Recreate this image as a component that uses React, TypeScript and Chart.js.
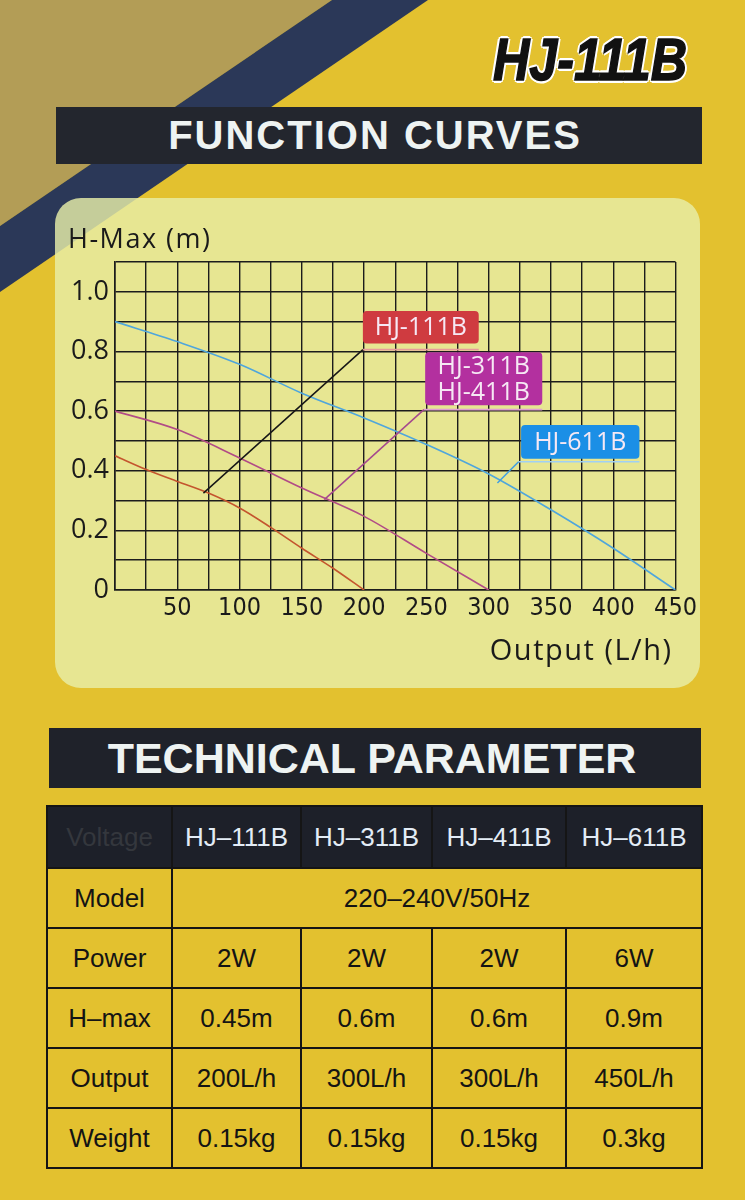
import React, { useEffect, useRef } from 'react';
import { Chart, registerables } from 'chart.js';
Chart.register(...registerables);

// ---- curve data (Output L/h -> H-Max m) ----
const flow111 = [0, 25, 50, 75, 100, 125, 150, 175, 200];
const head111 = [0.45, 0.404, 0.364, 0.325, 0.275, 0.21, 0.14, 0.073, 0];
const flow311 = [0, 50, 100, 150, 200, 250, 300];
const head311 = [0.6, 0.538, 0.443, 0.342, 0.247, 0.123, 0];
const flow611 = [0, 50, 100, 150, 200, 250, 300, 350, 400, 450];
const head611 = [0.9, 0.833, 0.757, 0.66, 0.577, 0.488, 0.389, 0.269, 0.14, 0];
const seriesNames = ['HJ-111B', 'HJ-311B / HJ-411B', 'HJ-611B'];
const seriesColors = ['#c4552e', '#b24c86', '#4fa6dc'];

const xTickLabels = [50, 100, 150, 200, 250, 300, 350, 400, 450];
const yTickLabels = [0, 0.2, 0.4, 0.6, 0.8, 1.0];

// ---- callouts (data units) ----
const calloutText = [['HJ-111B'], ['HJ-311B', 'HJ-411B'], ['HJ-611B']];
const calloutBoxX = [[199, 292], [249, 343], [326, 421]];
const calloutBoxY = [[0.827, 0.936], [0.62, 0.797], [0.44, 0.553]];
const calloutElbow = [[199, 0.806], [248, 0.605], [324, 0.43]];
const calloutTip = [[71, 0.325], [168, 0.303], [307, 0.359]];
const calloutFill = ['#cf3b40', '#b3309f', '#1b8fe6'];
const calloutLine = ['#161616', '#a5488e', '#3f9ee2'];
const calloutUnder = ['#e89a9a', '#e0a0d0', '#9fd0f5'];

// ---- table ----
const models = ['HJ–111B', 'HJ–311B', 'HJ–411B', 'HJ–611B'];
const voltageText = '220–240V/50Hz';
const power = ['2W', '2W', '2W', '6W'];
const hmax = ['0.45m', '0.6m', '0.6m', '0.9m'];
const output = ['200L/h', '300L/h', '300L/h', '450L/h'];
const weight = ['0.15kg', '0.15kg', '0.15kg', '0.3kg'];

const toPts = (xs: number[], ys: number[]) => xs.map((x, i) => ({ x, y: ys[i] }));

const overlayPlugin = {
  id: 'overlay',
  afterDatasetsDraw(chart: any) {
    const { ctx, chartArea, scales } = chart;
    const xs = scales.x;
    const ys = scales.y;
    ctx.save();
    // axis titles
    ctx.fillStyle = '#1a1a1a';
    ctx.font = '27px "Open Sans", "DejaVu Sans", sans-serif';
    ctx.textBaseline = 'alphabetic';
    ctx.textAlign = 'left';
    (ctx as any).letterSpacing = '1.5px';
    ctx.fillText('H-Max (m)', chartArea.left - 47, chartArea.top - 14);
    ctx.font = '29px "Open Sans", "DejaVu Sans", sans-serif';
    ctx.textAlign = 'right';
    ctx.fillText('Output (L/h)', chartArea.right - 3, chartArea.bottom + 70);
    (ctx as any).letterSpacing = '0px';

    // callouts
    calloutText.forEach((lines, i) => {
      const ex = xs.getPixelForValue(calloutElbow[i][0]);
      const ey = ys.getPixelForValue(calloutElbow[i][1]);
      const tx = xs.getPixelForValue(calloutTip[i][0]);
      const ty = ys.getPixelForValue(calloutTip[i][1]);
      const bx0 = xs.getPixelForValue(calloutBoxX[i][0]);
      const bx1 = xs.getPixelForValue(calloutBoxX[i][1]);
      const by0 = ys.getPixelForValue(calloutBoxY[i][1]);
      const by1 = ys.getPixelForValue(calloutBoxY[i][0]);
      // underline
      ctx.strokeStyle = calloutUnder[i];
      ctx.lineWidth = 1.6;
      ctx.beginPath();
      ctx.moveTo(ex, ey);
      ctx.lineTo(bx1, ey);
      ctx.stroke();
      // pointer
      ctx.strokeStyle = calloutLine[i];
      ctx.lineWidth = 1.5;
      ctx.beginPath();
      ctx.moveTo(ex, ey);
      ctx.lineTo(tx, ty);
      ctx.stroke();
      // box
      ctx.fillStyle = calloutFill[i];
      ctx.beginPath();
      (ctx as any).roundRect(bx0, by0, bx1 - bx0, by1 - by0, 4);
      ctx.fill();
      // text
      ctx.fillStyle = '#f6e8f4';
      ctx.font = '25px "Open Sans", "DejaVu Sans", sans-serif';
      ctx.textAlign = 'center';
      ctx.textBaseline = 'middle';
      const h = (by1 - by0) / lines.length;
      lines.forEach((t, j) => {
        ctx.fillText(t, (bx0 + bx1) / 2, by0 + h * (j + 0.5) + 1);
      });
    });
    ctx.restore();
  },
};

function PumpChart() {
  const ref = useRef<HTMLCanvasElement | null>(null);
  useEffect(() => {
    if (!ref.current) return;
    const chart = new Chart(ref.current, {
      type: 'line',
      data: {
        datasets: [
          { label: seriesNames[0], data: toPts(flow111, head111), borderColor: seriesColors[0] },
          { label: seriesNames[1], data: toPts(flow311, head311), borderColor: seriesColors[1] },
          { label: seriesNames[2], data: toPts(flow611, head611), borderColor: seriesColors[2] },
        ].map((d) => ({
          ...d,
          borderWidth: 1.6,
          pointRadius: 0,
          fill: false,
          cubicInterpolationMode: 'monotone' as const,
        })),
      },
      options: {
        animation: false,
        responsive: false,
        layout: { padding: { top: 64, right: 24, left: 0, bottom: 0 } },
        plugins: { legend: { display: false }, tooltip: { enabled: false }, title: { display: false } },
        scales: {
          x: {
            type: 'linear',
            min: 0,
            max: 450,
            afterFit: (s: any) => { s.height = 98; },
            ticks: {
              stepSize: 25,
              autoSkip: false,
              maxRotation: 0,
              padding: 3,
              color: '#1a1a1a',
              font: { family: '"DejaVu Sans Condensed", "Liberation Sans Narrow", sans-serif', size: 25 },
              callback: (v: any) => (xTickLabels.includes(Number(v)) ? String(v) : ''),
            },
            grid: { color: '#1c1c1c', lineWidth: 1.4, drawTicks: false },
            border: { color: '#1c1c1c', width: 1.6 },
          },
          y: {
            type: 'linear',
            min: 0,
            max: 1.1,
            afterFit: (s: any) => { s.width = 60; },
            ticks: {
              stepSize: 0.1,
              autoSkip: false,
              padding: 6,
              color: '#1a1a1a',
              font: { family: '"Open Sans", "DejaVu Sans", sans-serif', size: 27 },
              callback: (v: any) => {
                const r = Math.round(Number(v) * 10) / 10;
                const hit = yTickLabels.find((t) => Math.abs(t - r) < 1e-6);
                if (hit === undefined) return '';
                return hit === 0 ? '0' : hit.toFixed(1);
              },
            },
            grid: { color: '#1c1c1c', lineWidth: 1.4, drawTicks: false },
            border: { color: '#1c1c1c', width: 1.6 },
          },
        },
      },
      plugins: [overlayPlugin],
    } as any);
    return () => chart.destroy();
  }, []);
  return <canvas ref={ref} width={645} height={490} style={{ display: 'block', width: 645, height: 490 }} />;
}

const cellFont = '"Liberation Sans", Arial, sans-serif';

export default function App() {
  const border = '2px solid #151515';
  const td: React.CSSProperties = {
    border,
    textAlign: 'center',
    verticalAlign: 'middle',
    fontFamily: cellFont,
    fontSize: 26,
    color: '#141414',
    padding: 0,
    height: 58,
  };
  const th: React.CSSProperties = {
    ...td,
    background: '#1d2029',
    color: '#e3ecf6',
    height: 60,
    fontWeight: 'normal',
  };
  const rows: [string, string[]][] = [
    ['Power', power],
    ['H–max', hmax],
    ['Output', output],
    ['Weight', weight],
  ];
  return (
    <div
      style={{
        position: 'absolute',
        left: 0,
        top: 0,
        width: 745,
        height: 1200,
        overflow: 'hidden',
        background: '#e3c12f',
        fontFamily: cellFont,
      }}
    >
      <div style={{ position: 'absolute', inset: 0, background: '#b39d56', clipPath: 'polygon(0 0, 332px 0, 0 226px)' }} />
      <div
        style={{
          position: 'absolute',
          inset: 0,
          background: '#2b3858',
          clipPath: 'polygon(332px 0, 428px 0, 0 292px, 0 226px)',
        }}
      />
      {/* model title */}
      <div
        style={{
          position: 'absolute',
          left: 470,
          top: 22,
          width: 240,
          textAlign: 'center',
          fontFamily: '"Liberation Sans", Arial, sans-serif',
          fontWeight: 'bold',
          fontStyle: 'italic',
          fontSize: 60,
          lineHeight: '76px',
          color: '#111',
          transform: 'scaleX(0.84)',
          WebkitTextStroke: '1.5px #111',
          textShadow:
            '2px 0 0 #fff, -2px 0 0 #fff, 0 2px 0 #fff, 0 -2px 0 #fff, 2px 2px 0 #fff, -2px -2px 0 #fff, 2px -2px 0 #fff, -2px 2px 0 #fff, 3px 0 0 #fff, -3px 0 0 #fff, 0 3px 0 #fff, 0 -3px 0 #fff',
        }}
      >
        HJ-111B
      </div>
      {/* function curves banner */}
      <div
        style={{
          position: 'absolute',
          left: 56,
          top: 107,
          width: 646,
          height: 57,
          background: '#23262e',
          color: '#eef3f2',
          fontWeight: 'bold',
          fontSize: 40,
          letterSpacing: 2,
          lineHeight: '57px',
          textAlign: 'center',
          paddingRight: 8,
          boxSizing: 'border-box',
        }}
      >
        FUNCTION CURVES
      </div>
      {/* chart panel */}
      <div
        style={{
          position: 'absolute',
          left: 55,
          top: 198,
          width: 645,
          height: 490,
          borderRadius: 26,
          background: 'rgba(232,238,168,0.82)',
          overflow: 'hidden',
        }}
      >
        <PumpChart />
      </div>
      {/* technical parameter banner */}
      <div
        style={{
          position: 'absolute',
          left: 49,
          top: 728,
          width: 652,
          height: 60,
          background: '#1f222a',
          color: '#eef3f2',
          fontWeight: 'bold',
          fontSize: 43,
          lineHeight: '60px',
          textAlign: 'center',
          paddingRight: 6,
          boxSizing: 'border-box',
        }}
      >
        TECHNICAL PARAMETER
      </div>
      {/* table */}
      <table
        style={{
          position: 'absolute',
          left: 46,
          top: 805,
          width: 655,
          borderCollapse: 'collapse',
          tableLayout: 'fixed',
        }}
      >
        <colgroup>
          <col style={{ width: 125 }} />
          <col style={{ width: 129 }} />
          <col style={{ width: 131 }} />
          <col style={{ width: 134 }} />
          <col style={{ width: 136 }} />
        </colgroup>
        <tbody>
          <tr>
            <th style={{ ...th, color: '#34373d' }}>Voltage</th>
            {models.map((m) => (
              <th key={m} style={th}>
                {m}
              </th>
            ))}
          </tr>
          <tr>
            <td style={td}>Model</td>
            <td style={td} colSpan={4}>
              {voltageText}
            </td>
          </tr>
          {rows.map(([name, vals]) => (
            <tr key={name}>
              <td style={td}>{name}</td>
              {vals.map((v, i) => (
                <td key={i} style={td}>
                  {v}
                </td>
              ))}
            </tr>
          ))}
        </tbody>
      </table>
    </div>
  );
}
